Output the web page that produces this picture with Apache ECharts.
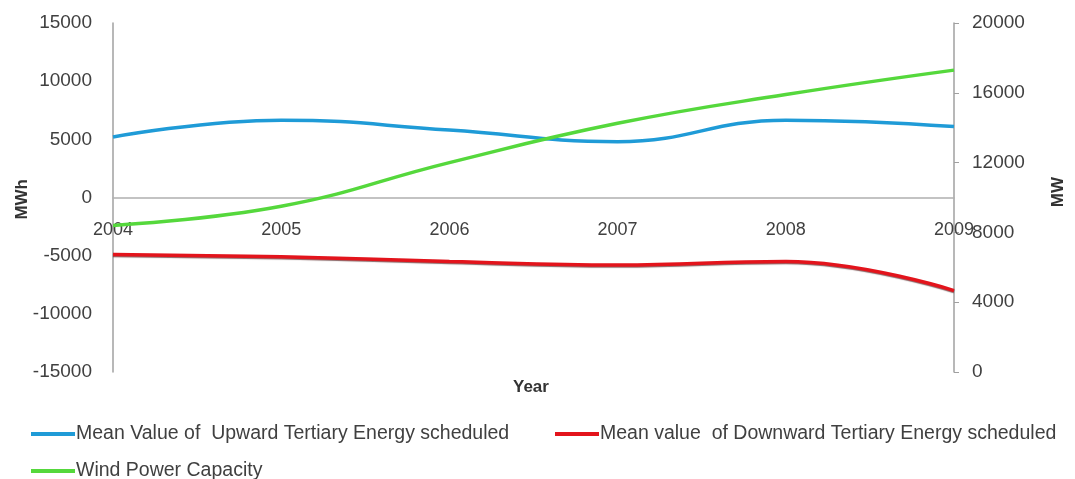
<!DOCTYPE html>
<html>
<head>
<meta charset="utf-8">
<script src="https://cdn.jsdelivr.net/npm/echarts@6/dist/echarts.min.js"></script>
<style>
  html, body { margin: 0; padding: 0; background: #fff; }
  #chart { width: 1075px; height: 479px; }
</style>
</head>
<body>
<div id="chart"></div>
<script>
// Years on the shared category axis
var years = ['2004', '2005', '2006', '2007', '2008', '2009'];
// Mean value of upward tertiary energy scheduled (MWh, left axis)
var upwardEnergy = [5200, 6650, 5800, 4800, 6650, 6100];
// Mean value of downward tertiary energy scheduled (MWh, left axis)
var downwardEnergy = [-4900, -5100, -5500, -5800, -5500, -8000];
// Installed wind power capacity (MW, right axis)
var windCapacity = [8400, 9500, 12000, 14250, 15900, 17300];

var leftTicks = { min: -15000, max: 15000, interval: 5000 };
var rightTicks = { min: 0, max: 20000, interval: 4000 };

var seriesNames = [
  'Mean Value of  Upward Tertiary Energy scheduled',
  'Mean value  of Downward Tertiary Energy scheduled',
  'Wind Power Capacity'
];

var FONT = 'Liberation Sans';
var TXT = '#404040';
var plain = function (v) { return String(v); };

function legendAt(name, left, top) {
  return {
    left: left, top: top, padding: 0,
    itemWidth: 44, itemHeight: 4, icon: 'rect',
    textStyle: { color: TXT, fontFamily: FONT, fontSize: 19.5, padding: [0, 0, 0, -4] },
    data: [name]
  };
}

var chart = echarts.init(document.getElementById('chart'));
chart.setOption({
  animation: false,
  backgroundColor: '#fff',
  grid: { left: 113, right: 121, top: 23, bottom: 107, containLabel: false },
  xAxis: {
    type: 'category',
    data: years,
    boundaryGap: false,
    axisLine: { onZero: true, onZeroAxisIndex: 0, lineStyle: { color: '#b0b0b0', width: 1.5 } },
    axisTick: { show: false },
    // year labels sit just under the zero line
    axisLabel: { color: TXT, fontFamily: FONT, fontSize: 18, margin: -151 },
    splitLine: { show: false }
  },
  yAxis: [
    {
      type: 'value',
      min: leftTicks.min, max: leftTicks.max, interval: leftTicks.interval,
      axisLine: { show: true, onZero: false, lineStyle: { color: '#a0a0a0', width: 1.5 } },
      axisTick: { show: false },
      axisLabel: { color: TXT, fontFamily: FONT, fontSize: 19, margin: 21, formatter: plain },
      splitLine: { show: false }
    },
    {
      type: 'value',
      position: 'right',
      min: rightTicks.min, max: rightTicks.max, interval: rightTicks.interval,
      axisLine: { show: true, onZero: false, lineStyle: { color: '#a0a0a0', width: 1.5 } },
      axisTick: { show: true, length: 5, lineStyle: { color: '#a0a0a0' } },
      axisLabel: { color: TXT, fontFamily: FONT, fontSize: 19, margin: 18, formatter: plain },
      splitLine: { show: false }
    }
  ],
  legend: [
    legendAt(seriesNames[0], 31, 424),
    legendAt(seriesNames[1], 555, 424),
    legendAt(seriesNames[2], 31, 461)
  ],
  graphic: [
    { type: 'text', left: 14, top: 179, rotation: Math.PI / 2,
      style: { text: 'MWh', font: 'bold 17px Liberation Sans', fill: '#333' } },
    { type: 'text', left: 1050, top: 177, rotation: Math.PI / 2,
      style: { text: 'MW', font: 'bold 17px Liberation Sans', fill: '#333' } },
    { type: 'text', left: 513, top: 379,
      style: { text: 'Year', font: 'bold 17px Liberation Sans', fill: '#333' } }
  ],
  series: [
    {
      name: seriesNames[0],
      type: 'line', yAxisIndex: 0, data: upwardEnergy,
      smooth: 0.45, showSymbol: false, symbol: 'none',
      itemStyle: { color: '#1f9bd7' },
      lineStyle: { color: '#1f9bd7', width: 3.5 }
    },
    {
      name: seriesNames[1],
      type: 'line', yAxisIndex: 0, data: downwardEnergy,
      smooth: 0.45, showSymbol: false, symbol: 'none',
      itemStyle: { color: '#e3141c' },
      lineStyle: { color: '#e3141c', width: 3.5, shadowColor: 'rgba(60,0,0,0.6)', shadowBlur: 1, shadowOffsetY: 1 }
    },
    {
      name: seriesNames[2],
      type: 'line', yAxisIndex: 1, data: windCapacity,
      smooth: 0.45, showSymbol: false, symbol: 'none',
      itemStyle: { color: '#55d83c' },
      lineStyle: { color: '#55d83c', width: 3.5 }
    }
  ]
});
</script>
</body>
</html>
